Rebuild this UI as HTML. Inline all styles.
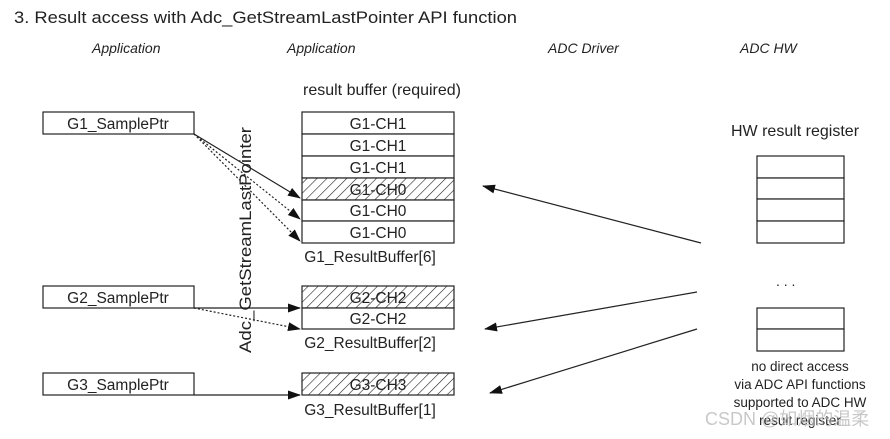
<!DOCTYPE html>
<html><head><meta charset="utf-8"><style>
html,body{margin:0;padding:0;background:#fff;}
svg{display:block;font-family:"Liberation Sans",Arial,sans-serif;}
</style></head><body>
<svg width="890" height="439" viewBox="0 0 890 439" xmlns="http://www.w3.org/2000/svg">
<defs>
<pattern id="h" width="7" height="7" patternUnits="userSpaceOnUse" patternTransform="rotate(45)">
<rect width="7" height="7" fill="#fff"/><line x1="0" y1="0" x2="0" y2="7" stroke="#222" stroke-width="1.2"/>
</pattern>
<marker id="a" markerWidth="13" markerHeight="9" refX="12" refY="4.5" orient="auto" markerUnits="userSpaceOnUse">
<path d="M0,0 L13,4.5 L0,9 Z" fill="#111"/></marker>
</defs>
<g fill="#222">
<text x="14" y="23" font-size="17" textLength="503" lengthAdjust="spacingAndGlyphs">3. Result access with Adc_GetStreamLastPointer API function</text>
<g font-style="italic" font-size="14">
<text x="92" y="53">Application</text>
<text x="287" y="53">Application</text>
<text x="548" y="53">ADC Driver</text>
<text x="740" y="53">ADC HW</text>
</g>
<text x="303" y="95" font-size="16">result buffer (required)</text>
<text x="731" y="136" font-size="16">HW result register</text>
<text x="776" y="286" font-size="14">. . .</text>
</g>
<g fill="#fff" stroke="#222" stroke-width="1.2">
<rect x="43" y="112" width="151" height="22"/>
<rect x="43" y="286" width="151" height="22"/>
<rect x="43" y="373" width="151" height="22"/>
<rect x="302" y="112" width="152" height="22"/>
<rect x="302" y="134" width="152" height="22"/>
<rect x="302" y="156" width="152" height="22"/>
<rect x="302" y="178" width="152" height="22" fill="url(#h)"/>
<rect x="302" y="200" width="152" height="21"/>
<rect x="302" y="221" width="152" height="22"/>
<rect x="302" y="286" width="152" height="22" fill="url(#h)"/>
<rect x="302" y="308" width="152" height="21"/>
<rect x="302" y="373" width="152" height="22" fill="url(#h)"/>
<rect x="757" y="156" width="87" height="22"/>
<rect x="757" y="178" width="87" height="21"/>
<rect x="757" y="199" width="87" height="22"/>
<rect x="757" y="221" width="87" height="22"/>
<rect x="757" y="308" width="87" height="21"/>
<rect x="757" y="329" width="87" height="22"/>
</g>
<g fill="#222" font-size="15.5" text-anchor="middle">
<text x="118" y="129">G1_SamplePtr</text>
<text x="118" y="303">G2_SamplePtr</text>
<text x="118" y="390">G3_SamplePtr</text>
<text x="378" y="129">G1-CH1</text>
<text x="378" y="151">G1-CH1</text>
<text x="378" y="173">G1-CH1</text>
<text x="378" y="195">G1-CH0</text>
<text x="378" y="216">G1-CH0</text>
<text x="378" y="238">G1-CH0</text>
<text x="378" y="303">G2-CH2</text>
<text x="378" y="324">G2-CH2</text>
<text x="378" y="390">G3-CH3</text>
<text x="370" y="262">G1_ResultBuffer[6]</text>
<text x="370" y="348">G2_ResultBuffer[2]</text>
<text x="370" y="415">G3_ResultBuffer[1]</text>
</g>
<g fill="#222" font-size="13.5" text-anchor="middle">
<text x="800" y="371">no direct access</text>
<text x="800" y="389">via ADC API functions</text>
<text x="800" y="407">supported to ADC HW</text>
<text x="800" y="425">result register</text>
</g>
<text x="705" y="425" font-size="18" fill="#bbb" opacity="0.8">CSDN @如烟的温柔</text>
<text transform="translate(251,353) rotate(-90)" font-size="17" fill="#222" textLength="226" lengthAdjust="spacingAndGlyphs">Adc_GetStreamLastPointer</text>
<g stroke="#222" stroke-width="1.2" fill="none">
<line x1="194" y1="134" x2="300" y2="198" marker-end="url(#a)"/>
<line x1="194" y1="134" x2="300" y2="219" stroke-dasharray="2,2" marker-end="url(#a)"/>
<line x1="194" y1="134" x2="300" y2="241" stroke-dasharray="2,2" marker-end="url(#a)"/>
<line x1="194" y1="308" x2="300" y2="308" marker-end="url(#a)"/>
<line x1="194" y1="308" x2="300" y2="329" stroke-dasharray="2,2" marker-end="url(#a)"/>
<line x1="194" y1="395" x2="300" y2="395" marker-end="url(#a)"/>
<line x1="701" y1="243" x2="483" y2="186" marker-end="url(#a)"/>
<line x1="697" y1="292" x2="485" y2="329" marker-end="url(#a)"/>
<line x1="697" y1="329" x2="490" y2="393" marker-end="url(#a)"/>
</g>
</svg>
</body></html>
